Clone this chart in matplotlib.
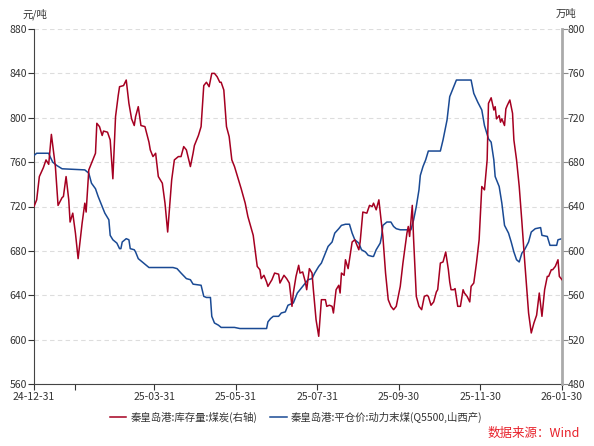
import datetime as dt
import matplotlib
matplotlib.use("Agg")
import matplotlib.pyplot as plt

plt.rcParams['font.family'] = ['Noto Sans CJK SC', 'DejaVu Sans']

# 起始日期
start = dt.date(2024, 12, 31)

# 秦皇岛港 库存量 (万吨, 右轴) : 距起始日期的天数 / 数值
stock_day = [0, 2, 4, 7, 9, 11, 13, 16, 18, 21, 22, 24, 26, 27, 29, 31, 33, 36, 38, 39,
             41, 42, 44, 46, 47, 49, 51, 52, 55, 57, 59, 61, 63, 64, 67, 69, 71, 73, 75, 76,
             78, 80, 83, 86, 87, 89, 91, 93, 96, 98, 100, 103, 105, 108, 110, 112, 114, 117, 119, 120,
             123, 125, 127, 129, 131, 133, 135, 137, 139, 140, 142, 144, 146, 148, 150, 152, 155, 158, 160, 164,
             167, 169, 170, 172, 174, 175, 178, 180, 183, 184, 187, 189, 191, 193, 194, 196, 198, 199, 201, 203,
             204, 206, 208, 209, 211, 213, 215, 218, 219, 221, 223, 224, 226, 228, 229, 230, 232, 233, 235, 236,
             238, 240, 241, 243, 244, 246, 249, 251, 253, 254, 256, 258, 259, 261, 263, 265, 267, 269, 271, 274,
             276, 279, 280, 281, 283, 284, 286, 288, 290, 292, 294, 295, 297, 299, 301, 302, 304, 306, 308, 310,
             311, 312, 314, 315, 317, 319, 321, 322, 324, 326, 327, 329, 331, 333, 335, 337, 339, 340, 342, 344,
             345, 346, 348, 349, 350, 352, 353, 354, 356, 358, 359, 361, 363, 365, 367, 370, 371, 372, 374, 376,
             378, 380, 382, 384, 385, 387, 388, 390, 392, 393, 395]
stock_val = [640, 646, 667, 675, 682, 678, 705, 676, 641, 648, 649, 667, 646, 626, 634, 616, 593, 625, 643, 635,
             673, 676, 682, 688, 715, 712, 704, 708, 707, 700, 665, 721, 740, 748, 749, 754, 733, 719, 713, 721,
             730, 713, 712, 698, 691, 685, 688, 667, 661, 643, 617, 664, 682, 685, 685, 694, 691, 676, 688, 695,
             704, 712, 749, 752, 748, 760, 760, 757, 752, 752, 745, 712, 703, 682, 676, 668, 656, 643, 631, 614,
             586, 583, 575, 578, 572, 568, 574, 580, 579, 571, 578, 575, 571, 550, 562, 577, 587, 580, 581, 572,
             565, 584, 580, 565, 538, 523, 556, 556, 550, 551, 550, 544, 565, 569, 562, 580, 578, 592, 584, 592,
             608, 610, 607, 601, 608, 635, 634, 641, 640, 643, 637, 646, 635, 613, 580, 556, 550, 547, 550, 568,
             589, 616, 622, 613, 641, 610, 559, 550, 547, 559, 560, 559, 551, 554, 563, 565, 589, 590, 599, 583,
             572, 565, 565, 566, 550, 550, 565, 562, 559, 554, 568, 571, 589, 610, 658, 655, 682, 733, 738, 727,
             730, 719, 722, 716, 719, 713, 728, 731, 736, 724, 700, 682, 658, 626, 592, 544, 535, 526, 535, 542,
             562, 541, 565, 577, 577, 583, 583, 586, 592, 577, 574]

# 秦皇岛港 平仓价 动力末煤 (元/吨, 左轴)
price_day = [0, 2, 11, 12, 14, 17, 21, 38, 41, 43, 46, 48, 51, 53, 56, 57, 59, 62, 64, 65,
             66, 69, 71, 72, 75, 76, 78, 81, 83, 86, 104, 107, 110, 114, 117, 119, 125, 127, 129, 132,
             133, 135, 138, 140, 150, 154, 174, 175, 177, 179, 183, 185, 188, 190, 192, 194, 197, 199, 203, 205,
             208, 210, 213, 215, 218, 220, 223, 225, 228, 230, 233, 236, 238, 240, 243, 245, 248, 250, 253, 254,
             256, 259, 260, 261, 264, 267, 269, 271, 274, 282, 284, 286, 288, 289, 291, 293, 295, 304, 306, 309,
             311, 314, 316, 327, 329, 332, 335, 337, 340, 342, 344, 345, 348, 350, 352, 355, 357, 359, 361, 363,
             365, 367, 370, 372, 375, 379, 380, 384, 386, 391, 392, 395]
price_val = [766, 768, 768, 765, 760, 757, 754, 753, 750, 741, 736, 729, 720, 714, 708, 694, 690, 687, 682, 682,
             688, 691, 690, 682, 681, 679, 673, 670, 668, 665, 665, 664, 660, 655, 654, 650, 649, 639, 638, 638,
             621, 615, 613, 611, 611, 610, 610, 616, 619, 621, 621, 624, 625, 631, 632, 633, 642, 645, 651, 654,
             655, 660, 666, 669, 678, 684, 688, 696, 700, 703, 704, 704, 696, 690, 687, 681, 679, 676, 675, 675,
             681, 687, 693, 703, 706, 706, 702, 700, 699, 699, 708, 720, 735, 748, 756, 762, 770, 770, 780, 798,
             819, 828, 834, 834, 822, 814, 807, 793, 781, 778, 762, 747, 738, 723, 703, 696, 688, 679, 672, 670,
             678, 681, 688, 697, 700, 701, 694, 693, 685, 685, 690, 691]

# x 轴刻度
tick_dates = ['2024-12-31', '2025-01-31', '2025-03-31', '2025-05-31', '2025-07-31',
              '2025-09-30', '2025-11-30', '2026-01-30']
tick_labels = ['24-12-31', '', '25-03-31', '25-05-31', '25-07-31', '25-09-30', '25-11-30', '26-01-30']

stock_x = [start + dt.timedelta(days=d) for d in stock_day]
price_x = [start + dt.timedelta(days=d) for d in price_day]
ticks = [dt.date.fromisoformat(t) for t in tick_dates]

red = '#A50021'
blue = '#1A4A94'
txt = '#333333'

fig = plt.figure(figsize=(5.94, 4.46), dpi=100)
ax = fig.add_axes([34 / 594, 62 / 446, 528 / 594, 355 / 446])
ax2 = ax.twinx()

ax.plot(price_x, price_val, color=blue, lw=1.1, label='秦皇岛港:平仓价:动力末煤(Q5500,山西产)', zorder=3)
ax2.plot(stock_x, stock_val, color=red, lw=1.1, label='秦皇岛港:库存量:煤炭(右轴)', zorder=3)

ax.set_xlim(start, dt.date(2026, 1, 30))
ax.set_ylim(560, 880)
ax2.set_ylim(480, 800)
ax.set_yticks(range(560, 881, 40))
ax2.set_yticks(range(480, 801, 40))
ax.set_xticks(ticks)
ax.set_xticklabels(tick_labels)

# 网格线
ax.grid(axis='y', color='#DDDDDD', ls=(0, (4, 3)), lw=0.8)
ax.set_axisbelow(True)

for a in (ax, ax2):
    a.spines['top'].set_visible(False)
    a.tick_params(labelsize=7.5, colors=txt, length=4, width=0.8, pad=1)
ax.spines['left'].set_color('#444444')
ax.spines['bottom'].set_color('#444444')
ax.spines['right'].set_visible(False)
ax2.spines['left'].set_visible(False)
ax2.spines['bottom'].set_visible(False)
ax2.spines['right'].set_color('#AAAAAA')
ax2.spines['right'].set_linewidth(2)
ax2.tick_params(axis='y', color='#888888', pad=0)
ax.tick_params(axis='x', pad=2)

# 单位
fig.text(22 / 594, 1 - 14 / 446, '元/吨', fontsize=7.5, color=txt, va='center')
fig.text(556 / 594, 1 - 14 / 446, '万吨', fontsize=7.5, color=txt, va='center')

# 图例
h1, l1 = ax2.get_legend_handles_labels()
h2, l2 = ax.get_legend_handles_labels()
fig.legend(h1 + h2, l1 + l2, loc='center', bbox_to_anchor=(296 / 594, 1 - 417 / 446), ncol=2,
           frameon=False, fontsize=7.5, handlelength=1.6, handletextpad=0.4, columnspacing=1.2,
           labelcolor=txt)

fig.text(580 / 594, 1 - 433 / 446, '数据来源：Wind', fontsize=9, color='#E8202A', ha='right', va='center')

fig.savefig('out.png', dpi=100)
